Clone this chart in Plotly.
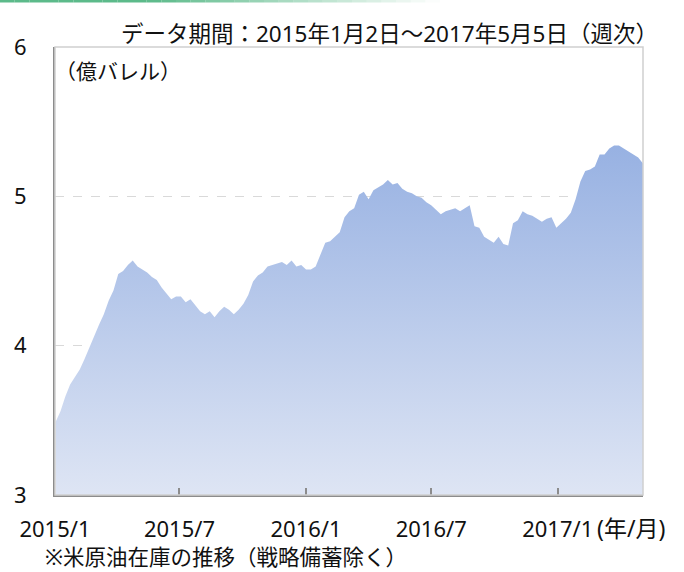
import pandas as pd
import plotly.graph_objects as go

# ---- data (weekly, 億バレル) ----
start_date = "2015-01-02"
n_weeks = 123
dates = pd.date_range(start_date, periods=n_weeks, freq="7D")

stocks = [
    3.49, 3.56, 3.66, 3.74, 3.79, 3.84, 3.91, 3.99, 4.07, 4.14,
    4.21, 4.30, 4.37, 4.48, 4.50, 4.54, 4.57, 4.53, 4.51, 4.49,
    4.46, 4.44, 4.39, 4.35, 4.31, 4.33, 4.33, 4.29, 4.31, 4.27,
    4.23, 4.21, 4.23, 4.19, 4.23, 4.26, 4.24, 4.21, 4.24, 4.28,
    4.34, 4.43, 4.47, 4.49, 4.53, 4.54, 4.55, 4.56, 4.54, 4.57,
    4.53, 4.54, 4.51, 4.51, 4.53, 4.61, 4.69, 4.70, 4.73, 4.76,
    4.86, 4.90, 4.92, 5.01, 5.03, 4.98, 5.04, 5.06, 5.08, 5.11,
    5.08, 5.09, 5.05, 5.03, 5.02, 5.00, 4.99, 4.96, 4.94, 4.91,
    4.88, 4.90, 4.91, 4.92, 4.90, 4.92, 4.94, 4.80, 4.79, 4.73,
    4.71, 4.69, 4.73, 4.68, 4.67, 4.82, 4.84, 4.90, 4.88, 4.87,
    4.85, 4.83, 4.85, 4.86, 4.79, 4.82, 4.85, 4.89, 4.98, 5.10,
    5.17, 5.18, 5.20, 5.28, 5.28, 5.32, 5.34, 5.34, 5.32, 5.30,
    5.28, 5.26, 5.22,
]

x_tick_vals = ["2015-01-01", "2015-07-01", "2016-01-01", "2016-07-01", "2017-01-01"]
x_tick_text = ["2015/1", "2015/7", "2016/1", "2016/7", "2017/1"]
y_tick_vals = [3, 4, 5, 6]
y_tick_text = ["3", "4", "5", "6"]
x_range = ["2015-01-01", "2017-05-05"]
y_range = [3, 6]

title_text = "データ期間：2015年1月2日～2017年5月5日（週次）"
unit_text = "（億バレル）"
xunit_text = "(年/月)"
note_text = "※米原油在庫の推移（戦略備蓄除く）"

FONT = "Noto Sans, Noto Sans CJK JP"
W, H = 684, 572
L, R, T, B = 55, 41, 47, 77
pw, ph = W - L - R, H - T - B


def px_x(px):
    return (px - L) / pw


def px_y(py):
    return (H - B - py) / ph


fig = go.Figure()
fig.add_trace(go.Scatter(
    x=dates, y=stocks, mode="lines",
    line=dict(width=0, color="#9db5e3"),
    fill="tozeroy",
    fillgradient=dict(type="vertical",
                      colorscale=[[0, "#dee5f4"], [1, "#97b1e2"]],
                      start=3, stop=5.35),
    hoverinfo="skip", showlegend=False,
))

shapes = []
# plot frame (top/right light gray)
shapes.append(dict(type="rect", xref="paper", yref="paper", x0=0, x1=1, y0=0, y1=1,
                   line=dict(color="#cfcfcf", width=1.5), layer="above"))
# decorative green bar at top of page
nseg = 30
for i in range(nseg):
    a = i * 440 / nseg
    b = (i + 1) * 440 / nseg
    mid = (a + b) / 2
    op = 1.0 if mid < 150 else max(0.0, 1 - (mid - 150) / 290)
    shapes.append(dict(type="rect", xref="paper", yref="paper",
                       x0=px_x(a), x1=px_x(b), y0=px_y(2.5), y1=px_y(0),
                       line=dict(width=0), fillcolor="rgb(92,186,138)", opacity=op))

annotations = [
    dict(text=title_text, x=px_x(660), y=px_y(33), xref="paper", yref="paper",
         xanchor="right", yanchor="middle", showarrow=False,
         font=dict(family=FONT, size=22.5, color="#111111")),
    dict(text=unit_text, x=px_x(53), y=px_y(71), xref="paper", yref="paper",
         xanchor="left", yanchor="middle", showarrow=False,
         font=dict(family=FONT, size=21, color="#111111")),
    dict(text=xunit_text, x=px_x(595), y=px_y(528), xref="paper", yref="paper",
         xanchor="left", yanchor="middle", showarrow=False,
         font=dict(family=FONT, size=23, color="#111111")),
    dict(text=note_text, x=px_x(43), y=px_y(556), xref="paper", yref="paper",
         xanchor="left", yanchor="middle", showarrow=False,
         font=dict(family=FONT, size=21.5, color="#111111")),
]

fig.update_layout(
    width=W, height=H,
    margin=dict(l=L, r=R, t=T, b=B, pad=0, autoexpand=False),
    paper_bgcolor="white", plot_bgcolor="white",
    shapes=shapes, annotations=annotations,
    showlegend=False,
    font=dict(family=FONT, size=22, color="#111111"),
    xaxis=dict(
        type="date", range=x_range, automargin=False,
        tickvals=x_tick_vals, ticktext=x_tick_text,
        ticks="inside", ticklen=7, tickwidth=2, tickcolor="#8c8c8c",
        showline=True, linecolor="#8c8c8c", linewidth=2,
        showgrid=False, zeroline=False,
        tickfont=dict(family=FONT, size=22, color="#111111"),
        ticklabelstandoff=14,
    ),
    yaxis=dict(
        range=y_range, automargin=False,
        tickvals=y_tick_vals, ticktext=y_tick_text,
        ticks="", showline=True, linecolor="#8c8c8c", linewidth=2,
        showgrid=True, gridcolor="#d9d9d9", gridwidth=1, griddash="dash",
        zeroline=False,
        tickfont=dict(family=FONT, size=22, color="#111111"),
        ticklabelstandoff=22,
    ),
)

fig.write_html("out.html", config={"displayModeBar": False},
               post_script="document.body.style.margin='0';document.body.style.padding='0';")
